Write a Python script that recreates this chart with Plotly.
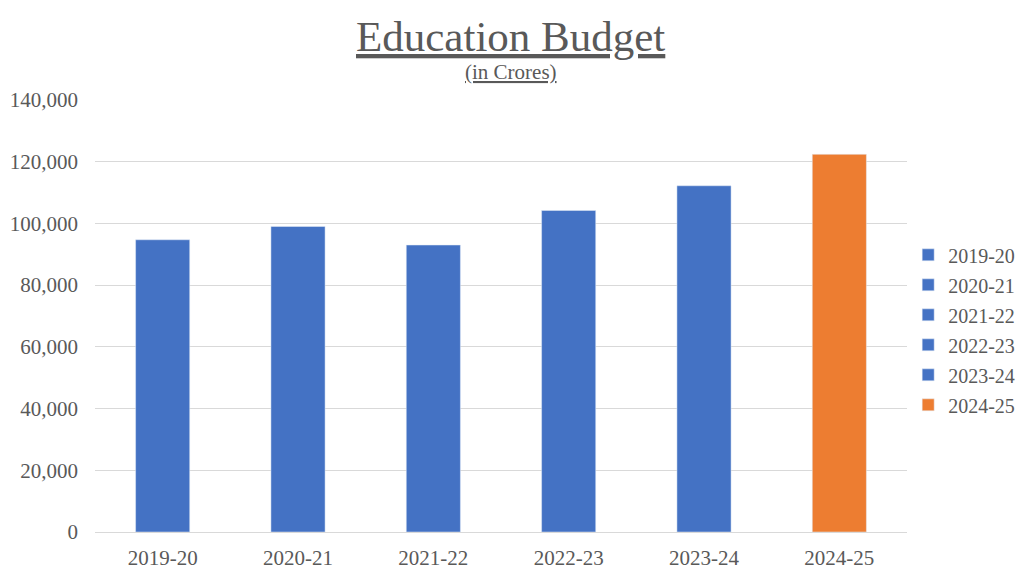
import plotly.graph_objects as go

# Education budget by year (in crores)
years = ['2019-20', '2020-21', '2021-22', '2022-23', '2023-24', '2024-25']
budget = [94700, 99000, 93000, 104200, 112200, 122400]
y_ticks = [0, 20000, 40000, 60000, 80000, 100000, 120000, 140000]

BLUE = '#4472C4'
ORANGE = '#ED7D31'
TEXT = '#595959'
GRID = '#D9D9D9'
FONT = 'Liberation Serif, Times New Roman, serif'

fig = go.Figure()

# one trace per year so every year shows up in the legend (like Excel "vary colours")
for yr, val in zip(years, budget):
    col = ORANGE if yr == years[-1] else BLUE
    fig.add_trace(go.Bar(x=[yr], y=[val], name=yr, legendgroup=yr,
                         marker_color=col, width=0.4))

# page body has an 8px margin, so size the figure to fit the window
fig.update_layout(
    width=1016, height=568,
    barmode='overlay',
    paper_bgcolor='white', plot_bgcolor='white',
    margin=dict(l=87, r=117, t=92, b=44, autoexpand=False),
    font=dict(family=FONT, size=21, color=TEXT),
    showlegend=True,
    legend=dict(xref='container', x=0.886, xanchor='left',
                y=0.468, yanchor='middle',
                font=dict(size=20, color=TEXT), traceorder='grouped',
                tracegroupgap=1, itemclick=False),
)

fig.update_xaxes(categoryorder='array', categoryarray=years,
                 showgrid=False, showline=False, ticks='',
                 ticklabelstandoff=11, tickfont=dict(size=21, color=TEXT))
fig.update_yaxes(range=[0, 140000], tickvals=y_ticks, tickformat=',',
                 showgrid=True, gridcolor=GRID, gridwidth=1,
                 zeroline=True, zerolinecolor=GRID, zerolinewidth=1,
                 showline=False, ticks='', ticklabelstandoff=16,
                 tickfont=dict(size=21, color=TEXT))

# title + subtitle, both underlined
fig.add_annotation(text='<u>Education Budget</u>', xref='paper', yref='paper',
                   x=0.512, y=1.146, xanchor='center', yanchor='middle',
                   showarrow=False, font=dict(family=FONT, size=43, color=TEXT))
fig.add_annotation(text='<u>(in Crores)</u>', xref='paper', yref='paper',
                   x=0.512, y=1.065, xanchor='center', yanchor='middle',
                   showarrow=False, font=dict(family=FONT, size=21, color=TEXT))

fig.write_html("out.html")
